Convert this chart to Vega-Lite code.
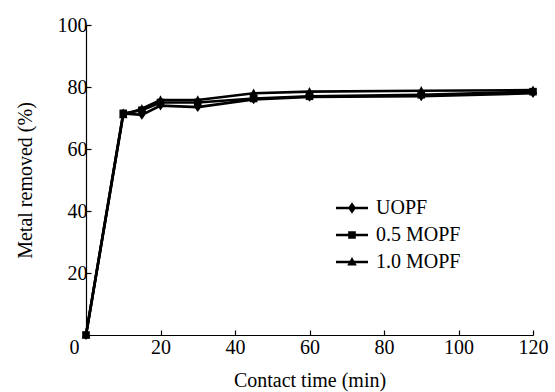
{
  "$schema": "https://vega.github.io/schema/vega-lite/v6.json",
  "width": 447,
  "height": 310,
  "autosize": {"type": "none"},
  "padding": {"left": 86, "top": 25, "right": 22, "bottom": 57},
  "background": "white",
  "config": {
    "view": {"stroke": null},
    "font": "Liberation Serif",
    "axis": {
      "grid": false,
      "domainColor": "black",
      "domainWidth": 1.2,
      "tickColor": "black",
      "tickWidth": 1.2,
      "labelFont": "Liberation Serif",
      "labelFontSize": 20,
      "labelColor": "black",
      "titleFont": "Liberation Serif",
      "titleFontSize": 20,
      "titleFontWeight": "normal",
      "titleColor": "black"
    }
  },
  "data": {
    "values": [
      {"time": 0, "removed": 0, "series": "UOPF"},
      {"time": 10, "removed": 71.5, "series": "UOPF"},
      {"time": 15, "removed": 71, "series": "UOPF"},
      {"time": 20, "removed": 74, "series": "UOPF"},
      {"time": 30, "removed": 73.5, "series": "UOPF"},
      {"time": 45, "removed": 76, "series": "UOPF"},
      {"time": 60, "removed": 76.8, "series": "UOPF"},
      {"time": 90, "removed": 77, "series": "UOPF"},
      {"time": 120, "removed": 78, "series": "UOPF"},
      {"time": 0, "removed": 0, "series": "0.5 MOPF"},
      {"time": 10, "removed": 71.5, "series": "0.5 MOPF"},
      {"time": 15, "removed": 72.5, "series": "0.5 MOPF"},
      {"time": 20, "removed": 75, "series": "0.5 MOPF"},
      {"time": 30, "removed": 75, "series": "0.5 MOPF"},
      {"time": 45, "removed": 76.3, "series": "0.5 MOPF"},
      {"time": 60, "removed": 77, "series": "0.5 MOPF"},
      {"time": 90, "removed": 77.5, "series": "0.5 MOPF"},
      {"time": 120, "removed": 78.5, "series": "0.5 MOPF"},
      {"time": 0, "removed": 0, "series": "1.0 MOPF"},
      {"time": 10, "removed": 71, "series": "1.0 MOPF"},
      {"time": 15, "removed": 73, "series": "1.0 MOPF"},
      {"time": 20, "removed": 75.8, "series": "1.0 MOPF"},
      {"time": 30, "removed": 75.8, "series": "1.0 MOPF"},
      {"time": 45, "removed": 78, "series": "1.0 MOPF"},
      {"time": 60, "removed": 78.5, "series": "1.0 MOPF"},
      {"time": 90, "removed": 78.8, "series": "1.0 MOPF"},
      {"time": 120, "removed": 79, "series": "1.0 MOPF"}
    ]
  },
  "encoding": {
    "x": {
      "field": "time",
      "type": "quantitative",
      "title": "Contact time (min)",
      "scale": {"domain": [0, 120], "nice": false},
      "axis": {
        "values": [0, 20, 40, 60, 80, 100, 120],
        "tickSize": -5,
        "labelPadding": 7,
        "titlePadding": 13,
        "labelFlush": false,
        "labelOffset": {"condition": {"test": "datum.value === 0", "value": -12}, "value": 0}
      }
    },
    "y": {
      "field": "removed",
      "type": "quantitative",
      "title": "Metal removed (%)",
      "scale": {"domain": [0, 100], "nice": false},
      "axis": {
        "values": [0, 20, 40, 60, 80, 100],
        "tickSize": -5,
        "labelExpr": "datum.value === 0 ? '' : datum.label",
        "labelPadding": 4,
        "titlePadding": 22
      }
    }
  },
  "resolve": {"scale": {"shape": "independent"}},
  "layer": [
    {
      "mark": {"type": "line", "color": "black", "strokeWidth": 2.6},
      "encoding": {"detail": {"field": "series"}}
    },
    {
      "mark": {"type": "point", "filled": true, "color": "black", "opacity": 1, "size": 80},
      "encoding": {
        "shape": {
          "field": "series",
          "type": "nominal",
          "scale": {
            "domain": ["UOPF", "0.5 MOPF", "1.0 MOPF"],
            "range": [
              "M0,-1.1L0.75,0L0,1.1L-0.75,0Z",
              "M-0.85,-0.85H0.85V0.85H-0.85Z",
              "M0,-1.05L0.95,0.75L-0.95,0.75Z"
            ]
          },
          "legend": null
        }
      }
    },
    {
      "mark": {"type": "point", "filled": true, "color": "black", "opacity": 0, "size": 1024},
      "encoding": {
        "shape": {
          "field": "series",
          "type": "nominal",
          "scale": {
            "domain": ["UOPF", "0.5 MOPF", "1.0 MOPF"],
            "range": [
              "M-1,-0.08H1V0.08H-1ZM0,-0.36L0.25,0L0,0.36L-0.25,0Z",
              "M-1,-0.08H1V0.08H-1ZM-0.24,-0.24H0.24V0.24H-0.24Z",
              "M-1,-0.08H1V0.08H-1ZM0,-0.32L0.3,0.22L-0.3,0.22Z"
            ]
          },
          "legend": {
            "title": null,
            "orient": "none",
            "legendX": 249,
            "legendY": 166,
            "symbolSize": 1024,
            "symbolFillColor": "black",
            "symbolOpacity": 1,
            "rowPadding": -10,
            "labelFont": "Liberation Serif",
            "labelFontSize": 20,
            "labelColor": "black",
            "labelOffset": 7
          }
        }
      }
    }
  ]
}
